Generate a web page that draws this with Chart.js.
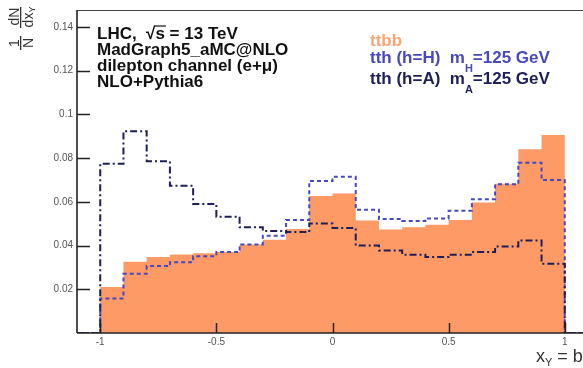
<!DOCTYPE html>
<html><head><meta charset="utf-8">
<script src="https://cdn.jsdelivr.net/npm/chart.js@4/dist/chart.umd.min.js"></script>
<style>
html,body{margin:0;padding:0;overflow:hidden;background:#fff;width:583px;height:368px}
#wrap{position:absolute;left:0;top:0;width:600px;height:368px}
</style>
</head><body>
<div id="wrap"><canvas id="c" width="600" height="368"></canvas></div>
<script>
// ---- data ----
const xRange = [-1.1, 1.1];
const yMax = 0.1477;
const binEdges = [-1.0,-0.9,-0.8,-0.7,-0.6,-0.5,-0.4,-0.3,-0.2,-0.1,0.0,0.1,0.2,0.3,0.4,0.5,0.6,0.7,0.8,0.9,1.0];
const ttbb = [0.0210,0.0326,0.0347,0.0359,0.0365,0.0370,0.0405,0.0426,0.0476,0.0627,0.0638,0.0514,0.0473,0.0483,0.0495,0.0517,0.0597,0.0683,0.0840,0.0905];
const tthH = [0.0158,0.0271,0.0306,0.0324,0.0351,0.0370,0.0405,0.0445,0.0517,0.0695,0.0714,0.0564,0.0521,0.0512,0.0524,0.0559,0.0612,0.0680,0.0779,0.0700];
const tthA = [0.0774,0.0923,0.0785,0.0673,0.0590,0.0532,0.0483,0.0466,0.0462,0.0501,0.0480,0.0400,0.0377,0.0358,0.0347,0.0358,0.0370,0.0395,0.0423,0.0317];
const xTicks = [-1, -0.5, 0, 0.5, 1];
const xTickLabels = ['-1', '-0.5', '0', '0.5', '1'];
const yTicks = [0.02, 0.04, 0.06, 0.08, 0.1, 0.12, 0.14];
const yTickLabels = ['0.02', '0.04', '0.06', '0.08', '0.1', '0.12', '0.14'];
const infoLines = ['LHC,  \u221As = 13 TeV', 'MadGraph5_aMC@NLO', 'dilepton channel (e+\u03BC)', 'NLO+Pythia6'];

const FONT = '"Liberation Sans", Arial, sans-serif';
const C_TTBB = '#fe9a66', C_TTBB_TXT = '#f8a473';
const C_H = '#4848c0', C_A = '#1e1e58';

function stepData(vals) {
  const pts = [{x: xRange[0], y: 0}];
  vals.forEach((v, i) => pts.push({x: binEdges[i], y: v}));
  pts.push({x: binEdges[binEdges.length - 1], y: 0});
  pts.push({x: xRange[1], y: 0});
  return pts;
}

const rootDecor = {
  id: 'rootDecor',
  afterDatasetsDraw(chart) {
    const {ctx, chartArea: a, scales: {x, y}} = chart;
    ctx.save();
    // frame
    ctx.strokeStyle = '#444'; ctx.lineWidth = 1;
    ctx.beginPath(); ctx.moveTo(a.left, a.top + 0.5); ctx.lineTo(a.right + 20, a.top + 0.5); ctx.stroke();
    ctx.strokeStyle = '#222'; ctx.lineWidth = 1.6;
    ctx.beginPath(); ctx.moveTo(a.left, a.bottom); ctx.lineTo(a.left, a.top); ctx.stroke();
    ctx.beginPath(); ctx.moveTo(a.left, a.bottom); ctx.lineTo(a.right + 20, a.bottom); ctx.stroke();
    // inward ticks
    ctx.lineWidth = 1.5; ctx.strokeStyle = '#222';
    ctx.beginPath();
    y.ticks.forEach(t => { const p = Math.round(y.getPixelForValue(t.value)) + 0.5; ctx.moveTo(a.left, p); ctx.lineTo(a.left + 13, p); });
    x.ticks.forEach(t => { const p = Math.round(x.getPixelForValue(t.value)) + 0.5; ctx.moveTo(p, a.bottom); ctx.lineTo(p, a.bottom - 10); });
    ctx.stroke();

    // info text
    ctx.fillStyle = '#111'; ctx.textAlign = 'left'; ctx.textBaseline = 'alphabetic';
    ctx.font = 'bold 17px ' + FONT;
    const lx = 97, lb = [39, 55, 71, 87];
    infoLines.forEach((s, i) => ctx.fillText(s, lx, lb[i]));
    // overline on s of sqrt
    const pre = ctx.measureText('LHC,  \u221A').width, sw = ctx.measureText('s').width;
    ctx.lineWidth = 1.2; ctx.strokeStyle = '#111';
    ctx.beginPath(); ctx.moveTo(lx + pre - 1, lb[0] - 13); ctx.lineTo(lx + pre + sw + 1, lb[0] - 13); ctx.stroke();

    // legend texts
    ctx.font = 'bold 17px ' + FONT;
    ctx.fillStyle = C_TTBB_TXT; ctx.fillText('ttbb', 370, 46);
    const rows = [{c: C_H, t: 'tth (h=H)  m', s: 'H', b: 63}, {c: C_A, t: 'tth (h=A)  m', s: 'A', b: 84}];
    rows.forEach(r => {
      ctx.fillStyle = r.c; ctx.font = 'bold 17px ' + FONT;
      ctx.fillText(r.t, 370, r.b);
      let px = 370 + ctx.measureText(r.t).width;
      ctx.font = 'bold 11px ' + FONT;
      ctx.fillText(r.s, px, r.b + 9);
      px += ctx.measureText(r.s).width;
      ctx.font = 'bold 17px ' + FONT;
      ctx.fillText('=125 GeV', px, r.b);
    });

    // x title
    ctx.fillStyle = '#333';
    ctx.font = '18px ' + FONT;
    let tx = 536; ctx.fillText('x', tx, 362); tx += ctx.measureText('x').width;
    ctx.font = '11px ' + FONT; ctx.fillText('Y', tx, 366); tx += ctx.measureText('Y').width;
    ctx.font = '18px ' + FONT; ctx.fillText(' = b', tx, 362);

    // y title (rotated fraction)
    ctx.rotate(-Math.PI / 2);
    ctx.fillStyle = '#333'; ctx.textAlign = 'center';
    ctx.font = '14px ' + FONT;
    ctx.fillText('1', -43, 19);
    ctx.fillText('N', -43, 32.5);
    ctx.fillRect(-50, 20, 14, 1.3);
    ctx.fillText('dN', -16.5, 19);
    ctx.textAlign = 'left';
    const w1 = ctx.measureText('dx').width;
    ctx.font = '9px ' + FONT;
    const w2 = ctx.measureText('Y').width;
    const u0 = -17 - (w1 + w2) / 2;
    ctx.font = '14px ' + FONT; ctx.fillText('dx', u0, 32.5);
    ctx.font = '9px ' + FONT; ctx.fillText('Y', u0 + w1, 35);
    ctx.fillRect(-28, 20, 21, 1.3);
    ctx.restore();
  }
};

new Chart(document.getElementById('c'), {
  type: 'line',
  data: {
    datasets: [
      {label: 'tth (h=A)', data: stepData(tthA), stepped: 'before', borderColor: C_A, borderWidth: 2, borderDash: [7, 3, 2, 3], pointRadius: 0, fill: false, order: 1},
      {label: 'tth (h=H)', data: stepData(tthH), stepped: 'before', borderColor: C_H, borderWidth: 2, borderDash: [4, 3], pointRadius: 0, fill: false, order: 2},
      {label: 'ttbb', data: stepData(ttbb), stepped: 'before', borderWidth: 0, borderColor: 'rgba(0,0,0,0)', backgroundColor: C_TTBB, pointRadius: 0, fill: 'origin', order: 3}
    ]
  },
  options: {
    responsive: false, animation: false, devicePixelRatio: 1,
    layout: {padding: {top: 8, right: 12, left: 0, bottom: 0}},
    plugins: {legend: {display: false}, tooltip: {enabled: false}},
    scales: {
      x: {
        type: 'linear', min: xRange[0], max: xRange[1],
        afterBuildTicks: s => { s.ticks = xTicks.map(v => ({value: v})); },
        afterFit: s => { s.height = 35; },
        ticks: {autoSkip: false, maxRotation: 0, padding: 3, color: '#555', font: {family: FONT, size: 10},
          callback: (v) => xTickLabels[xTicks.indexOf(v)]},
        grid: {display: false, drawTicks: false}, border: {display: false}
      },
      y: {
        type: 'linear', min: 0, max: yMax,
        afterBuildTicks: s => { s.ticks = yTicks.map(v => ({value: v})); },
        afterFit: s => { s.width = 77; },
        ticks: {autoSkip: false, padding: 4, color: '#555', font: {family: FONT, size: 10},
          callback: (v) => yTickLabels[yTicks.indexOf(v)]},
        grid: {display: false, drawTicks: false}, border: {display: false}
      }
    }
  },
  plugins: [rootDecor]
});
</script>
</body></html>
